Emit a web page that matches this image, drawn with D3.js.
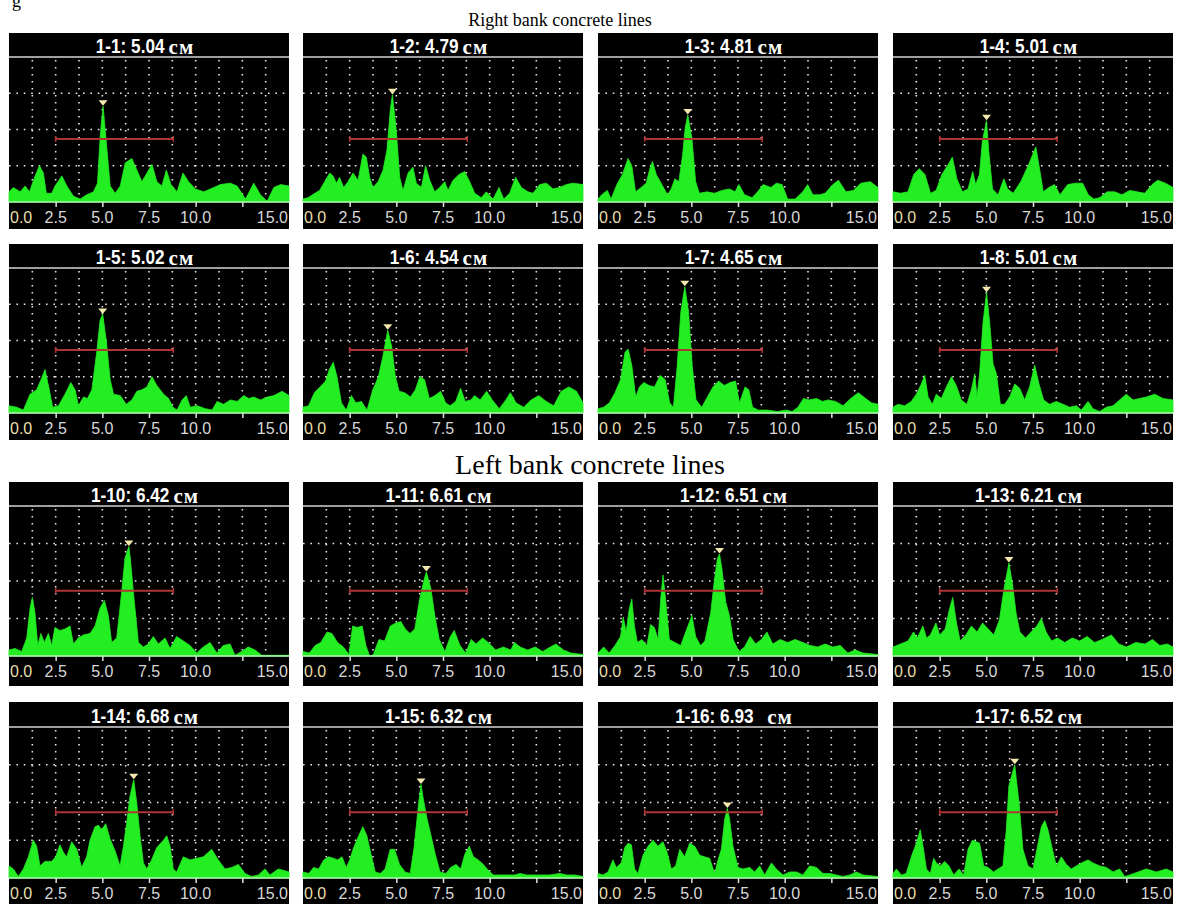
<!DOCTYPE html>
<html>
<head>
<meta charset="utf-8">
<script src="https://cdn.jsdelivr.net/npm/d3@7"></script>
<style>
  body { margin: 0; background: #fff; }
  svg { display: block; }
</style>
</head>
<body>
<div id="chart"></div>
<script>
// panel names and measured depth in each title
var panelIds = ["1-1", "1-2", "1-3", "1-4", "1-5", "1-6", "1-7", "1-8",
                "1-10", "1-11", "1-12", "1-13", "1-14", "1-15", "1-16", "1-17"];
var peakDepths = ["5.04", "4.79", "4.81", "5.01", "5.02", "4.54", "4.65", "5.01",
                  "6.42", "6.61", "6.51", "6.21", "6.68", "6.32", "6.93  ", "6.52"];
var unitLabel = "см";
var sectionTitles = ["Right bank concrete lines", "Left bank concrete lines"];

// x axis (depth, cm)
var tickValues = [2.5, 5, 7.5, 10, 12.5];
var labelValues = [0, 2.5, 5, 7.5, 10, 15];
var labelTexts = ["0.0", "2.5", "5.0", "7.5", "10.0", "15.0"];

// red gate
var gateFrom = 2.5, gateTo = 8.8, gateLevel = 43.5;

// spectra: [depth, amplitude %]
var trace_1_1 = [[0,7],[0.23,10],[0.6,7],[0.86,11],[1.1,7],[1.4,18],[1.63,25],[1.84,20],[2.0,6],[2.29,6],[2.47,11],[2.83,18],[3.1,11],[3.45,4],[3.81,2],[4.17,5],[4.53,7],[4.74,13],[4.9,48],[5.04,66],[5.2,43],[5.42,11],[5.69,6],[5.96,11],[6.23,27],[6.58,30],[6.85,22],[7.12,14],[7.39,20],[7.66,26],[7.92,14],[8.19,11],[8.43,22],[8.68,12],[9.0,7],[9.32,20],[9.62,14],[9.98,9],[10.43,7],[10.97,10],[11.32,12],[11.86,13],[12.22,11],[12.67,2],[13.11,13],[13.47,5],[13.83,0.5],[14.19,10],[14.55,12],[15,11]];
var trace_1_2 = [[0,2],[0.27,3],[0.63,6],[0.89,8],[1.16,14],[1.43,20],[1.61,18],[1.79,13],[1.96,17],[2.18,10],[2.41,14],[2.68,20],[2.95,15],[3.21,33],[3.39,31],[3.57,17],[3.75,10],[4.02,14],[4.29,22],[4.5,36],[4.68,64],[4.79,74],[4.98,52],[5.18,17],[5.36,8],[5.63,20],[5.89,24],[6.07,13],[6.34,10],[6.57,25],[6.79,15],[7.05,7],[7.32,10],[7.59,14],[7.77,8],[8.04,15],[8.36,19],[8.66,21],[8.93,14],[9.2,6],[9.55,3],[9.82,7],[10.18,2],[10.5,10],[10.75,2],[11.07,6],[11.39,17],[11.7,10],[12.05,7],[12.32,6],[12.68,12],[13.04,13],[13.39,9],[13.75,10],[14.11,12],[14.46,13],[15,12]];
var trace_1_3 = [[0,2],[0.2,5],[0.5,8],[0.7,2],[1.01,12],[1.31,19],[1.61,30],[1.81,25],[2.01,7],[2.31,10],[2.58,13],[2.78,23],[2.92,28],[3.12,19],[3.42,12],[3.72,5],[3.92,9],[4.12,16],[4.33,14],[4.53,32],[4.67,51],[4.81,60],[5.03,44],[5.23,14],[5.43,6],[5.84,7],[6.24,6],[6.64,8],[7.04,9],[7.34,7],[7.55,12],[7.85,5],[8.25,3],[8.55,7],[8.85,12],[9.26,10],[9.56,13],[9.86,12],[10.16,2],[10.56,2],[10.97,7],[11.23,12],[11.51,5],[11.87,5],[12.17,6],[12.58,12],[12.88,15],[13.28,7],[13.68,8],[14.09,13],[14.59,14],[15,10]];
var trace_1_4 = [[0,7],[0.4,6],[0.8,7],[1.11,19],[1.41,23],[1.71,19],[2.01,6],[2.31,8],[2.62,19],[2.92,25],[3.18,31],[3.42,16],[3.72,7],[4.02,9],[4.27,21],[4.43,12],[4.63,19],[4.79,42],[5.01,56],[5.13,35],[5.33,9],[5.63,5],[5.94,16],[6.14,9],[6.44,6],[6.84,14],[7.24,25],[7.65,38],[7.85,23],[8.05,7],[8.35,10],[8.65,12],[8.95,5],[9.36,12],[9.76,13],[10.16,13],[10.46,5],[10.76,2],[11.07,3],[11.47,7],[11.87,7],[12.27,5],[12.68,8],[13.08,7],[13.48,6],[13.88,12],[14.18,15],[14.59,13],[15,10]];
var trace_1_5 = [[0,5],[0.41,4],[0.77,2],[1.13,13],[1.48,16],[1.75,24],[1.93,30],[2.16,16],[2.34,4],[2.65,5],[3.0,13],[3.31,21],[3.54,16],[3.72,5],[3.99,11],[4.2,10],[4.44,16],[4.71,43],[4.88,64],[5.02,68],[5.21,50],[5.42,23],[5.6,13],[5.96,12],[6.28,6],[6.58,9],[6.85,15],[7.12,16],[7.39,18],[7.66,25],[7.92,19],[8.28,13],[8.55,10],[8.78,4],[9.0,2],[9.27,9],[9.5,12],[9.71,4],[10.07,5],[10.52,3],[10.88,2],[11.15,8],[11.5,6],[11.86,9],[12.22,8],[12.58,12],[12.84,10],[13.11,11],[13.47,9],[13.83,11],[14.19,12],[14.63,15],[15,12]];
var trace_1_6 = [[0,4],[0.3,5],[0.61,14],[0.91,18],[1.21,22],[1.41,30],[1.62,35],[1.82,25],[2.06,7],[2.32,2],[2.59,12],[2.83,7],[3.13,8],[3.43,2],[3.74,16],[4.04,25],[4.28,39],[4.48,53],[4.54,57],[4.75,46],[4.95,25],[5.15,15],[5.45,14],[5.76,11],[6.02,16],[6.26,25],[6.51,23],[6.77,10],[7.07,12],[7.37,15],[7.64,7],[7.88,5],[8.18,8],[8.44,17],[8.69,8],[8.99,9],[9.19,12],[9.49,9],[9.84,15],[10.14,9],[10.51,3],[10.81,8],[11.11,14],[11.41,7],[11.82,4],[12.22,9],[12.63,12],[13.03,8],[13.43,5],[13.84,15],[14.24,18],[14.65,15],[15,7]];
var trace_1_7 = [[0,3],[0.3,4],[0.61,7],[0.91,14],[1.21,23],[1.45,42],[1.62,44],[1.82,32],[2.02,11],[2.22,18],[2.46,21],[2.73,19],[3.03,18],[3.33,26],[3.6,23],[3.84,7],[4.04,4],[4.24,32],[4.44,70],[4.65,87],[4.85,70],[5.05,32],[5.25,9],[5.56,4],[5.86,11],[6.16,18],[6.46,22],[6.77,19],[7.07,21],[7.37,22],[7.58,7],[7.88,18],[8.08,16],[8.28,4],[8.59,2],[9.09,2],[9.6,1],[10.1,2],[10.4,1],[10.71,4],[11.01,10],[11.31,9],[11.72,10],[12.02,8],[12.32,9],[12.73,8],[13.13,5],[13.54,10],[13.94,14],[14.34,10],[14.65,7],[15,6]];
var trace_1_8 = [[0,4],[0.27,6],[0.63,5],[0.98,8],[1.25,13],[1.52,20],[1.7,26],[1.88,11],[2.11,6],[2.32,13],[2.59,10],[2.86,18],[3.13,25],[3.39,19],[3.66,9],[3.96,6],[4.2,16],[4.38,27],[4.5,11],[4.64,27],[4.82,62],[5.01,83],[5.18,62],[5.36,34],[5.54,27],[5.75,6],[5.98,6],[6.25,11],[6.52,20],[6.79,17],[7.05,9],[7.32,18],[7.59,33],[7.82,20],[8.07,9],[8.39,6],[8.75,8],[9.11,6],[9.46,4],[9.82,5],[10.09,2],[10.45,8],[10.71,3],[11.07,1],[11.43,4],[11.79,5],[12.14,9],[12.5,13],[12.86,9],[13.21,10],[13.57,11],[14.02,13],[14.46,10],[15,9]];
var trace_1_10 = [[0,4],[0.32,5],[0.68,3],[0.95,12],[1.13,32],[1.25,39],[1.39,29],[1.54,7],[1.71,15],[1.89,9],[2.11,15],[2.29,7],[2.46,19],[2.73,17],[3.0,18],[3.27,20],[3.45,8],[3.71,12],[3.98,14],[4.34,15],[4.61,20],[4.88,32],[5.11,37],[5.32,27],[5.5,9],[5.77,12],[6.04,43],[6.21,65],[6.42,73],[6.5,65],[6.66,43],[6.93,9],[7.2,6],[7.46,8],[7.73,13],[8.0,8],[8.36,12],[8.63,5],[8.98,13],[9.34,10],[9.7,7],[10.05,2],[10.41,6],[10.77,9],[11.13,2],[11.48,7],[11.84,8],[12.11,0.5],[12.46,3],[12.82,6],[13.18,4],[13.54,0.5],[14.25,0.5],[15,0.5]];
var trace_1_11 = [[0,3],[0.34,2],[0.65,7],[0.95,9],[1.29,16],[1.55,15],[1.85,9],[2.16,6],[2.46,1],[2.66,20],[2.9,19],[3.17,20],[3.37,7],[3.57,0],[3.77,1],[4.07,11],[4.37,10],[4.68,20],[4.98,22],[5.24,23],[5.48,18],[5.73,15],[5.99,18],[6.25,38],[6.49,51],[6.61,56],[6.85,45],[7.06,27],[7.3,11],[7.6,3],[7.9,13],[8.1,17],[8.41,7],[8.71,2],[9.01,11],[9.27,8],[9.62,12],[9.92,9],[10.32,4],[10.73,6],[11.13,4],[11.33,9],[11.63,6],[12.04,4],[12.44,6],[12.84,3],[13.25,6],[13.55,8],[13.95,4],[14.35,2],[15,1]];
var trace_1_12 = [[0,2],[0.3,6],[0.6,2],[0.91,7],[1.21,13],[1.35,26],[1.51,16],[1.67,31],[1.81,38],[1.95,20],[2.11,9],[2.35,11],[2.62,7],[2.82,21],[3.02,19],[3.22,11],[3.36,38],[3.48,54],[3.62,38],[3.82,11],[4.12,9],[4.43,7],[4.73,17],[5.03,27],[5.23,13],[5.49,7],[5.73,10],[6.04,29],[6.24,51],[6.4,65],[6.51,68],[6.64,58],[6.84,36],[7.04,27],[7.24,11],[7.55,3],[7.85,6],[8.15,13],[8.45,8],[8.75,11],[9.05,16],[9.36,8],[9.76,11],[10.16,9],[10.56,11],[10.97,9],[11.37,7],[11.77,6],[12.17,8],[12.58,6],[12.98,7],[13.38,2],[13.78,4],[14.19,2],[15,1]];
var trace_1_13 = [[0,6],[0.4,8],[0.8,10],[1.1,16],[1.3,12],[1.6,20],[1.8,12],[2.0,14],[2.3,22],[2.5,14],[2.8,18],[3.0,30],[3.2,39],[3.4,22],[3.6,10],[3.9,14],[4.2,20],[4.5,16],[4.8,22],[5.1,18],[5.4,14],[5.7,24],[5.95,45],[6.21,62],[6.4,48],[6.6,28],[6.8,16],[7.1,12],[7.4,16],[7.7,20],[7.95,25],[8.2,16],[8.5,10],[8.8,12],[9.2,9],[9.6,12],[10.0,10],[10.4,13],[10.8,9],[11.2,11],[11.7,14],[12.1,8],[12.5,6],[13.0,9],[13.5,8],[13.9,11],[14.3,7],[14.7,8],[15,6]];
var trace_1_14 = [[0,8],[0.23,6],[0.5,1],[0.77,6],[1.04,14],[1.3,25],[1.48,21],[1.66,8],[1.93,11],[2.29,11],[2.5,14],[2.73,22],[2.91,17],[3.09,14],[3.36,24],[3.63,19],[3.89,7],[4.16,14],[4.34,25],[4.61,34],[4.79,35],[4.96,32],[5.18,36],[5.41,26],[5.68,18],[5.95,8],[6.13,21],[6.3,36],[6.48,54],[6.68,65],[6.84,50],[7.02,28],[7.2,10],[7.38,6],[7.64,12],[7.91,20],[8.27,25],[8.45,28],[8.63,21],[8.8,6],[8.98,4],[9.34,14],[9.7,12],[10.05,13],[10.41,14],[10.86,19],[11.21,12],[11.57,6],[11.93,7],[12.29,9],[12.64,3],[13.0,1],[13.36,2],[13.71,6],[13.98,2],[14.43,6],[15,4]];
var trace_1_15 = [[0,4],[0.3,3],[0.57,7],[0.84,6],[1.11,12],[1.37,14],[1.64,13],[1.85,12],[2.09,14],[2.32,7],[2.5,12],[2.71,20],[2.98,28],[3.21,34],[3.42,28],[3.64,16],[3.87,4],[4.14,3],[4.4,6],[4.67,19],[4.9,19],[5.17,9],[5.47,4],[5.74,3],[5.95,20],[6.19,49],[6.32,62],[6.45,52],[6.63,40],[6.84,29],[7.08,16],[7.34,4],[7.66,3],[7.91,7],[8.2,9],[8.45,6],[8.68,16],[8.91,21],[9.13,14],[9.39,12],[9.66,9],[9.93,5],[10.2,2],[10.55,2],[10.91,2],[11.35,2],[11.62,3],[11.98,2],[12.42,2],[12.87,2],[13.23,2],[13.76,3],[14.12,2],[14.56,2],[15,1]];
var trace_1_16 = [[0,3],[0.27,2],[0.54,4],[0.8,12],[0.98,7],[1.25,10],[1.43,20],[1.61,23],[1.79,22],[1.96,6],[2.14,3],[2.41,15],[2.68,21],[2.95,25],[3.21,21],[3.48,24],[3.7,17],[3.93,6],[4.16,8],[4.38,19],[4.64,14],[4.91,23],[5.18,21],[5.45,15],[5.71,14],[5.98,13],[6.25,3],[6.43,12],[6.61,19],[6.79,39],[6.93,46],[7.05,39],[7.23,21],[7.5,7],[7.77,6],[8.13,7],[8.39,4],[8.66,8],[8.93,2],[9.29,10],[9.55,6],[9.91,2],[10.27,4],[10.63,4],[10.98,2],[11.34,8],[11.7,7],[12.05,3],[12.41,3],[12.77,2],[13.13,1],[13.48,2],[13.84,4],[14.2,2],[15,1]];
var trace_1_17 = [[0,3],[0.18,6],[0.45,2],[0.71,3],[0.98,14],[1.25,23],[1.46,32],[1.61,21],[1.79,6],[2.0,3],[2.18,13],[2.32,10],[2.54,8],[2.77,11],[3.0,8],[3.25,2],[3.54,6],[3.79,2],[4.02,19],[4.25,25],[4.46,24],[4.64,23],[4.86,8],[5.09,7],[5.39,4],[5.63,6],[5.89,8],[6.07,32],[6.21,61],[6.52,75],[6.61,65],[6.75,50],[6.96,19],[7.23,8],[7.5,6],[7.71,19],[7.95,34],[8.13,38],[8.3,32],[8.54,19],[8.75,8],[9.02,14],[9.29,9],[9.55,6],[9.82,8],[10.09,10],[10.45,12],[10.71,10],[11.07,8],[11.43,7],[11.79,4],[12.14,6],[12.41,1],[12.68,2],[13.13,4],[13.57,6],[14.11,4],[14.64,6],[15,4]];

var traces = [trace_1_1, trace_1_2, trace_1_3, trace_1_4, trace_1_5, trace_1_6, trace_1_7, trace_1_8,
              trace_1_10, trace_1_11, trace_1_12, trace_1_13, trace_1_14, trace_1_15, trace_1_16, trace_1_17];

// layout
var W = 1178, H = 904;
var colX = [9, 303, 598, 893], panelW = 280;
var rowTop = [33, 244, 482, 702],
    rowH = [196, 196, 204, 202],
    titleH = [24, 24, 24, 25],
    axisH = [27, 27, 30, 26];

var green = "#22ee22";
var sansFont = "'Liberation Sans', Arial, sans-serif";
var serifFont = "'Liberation Serif', 'Times New Roman', serif";

var svg = d3.select("#chart")
    .append("svg")
    .attr("width", W)
    .attr("height", H);

// section headings (the first line is cut off at the top edge, as in the source)
svg.append("text")
    .text("g")
    .attr("x", 12).attr("y", 7)
    .style("font-family", serifFont)
    .style("font-size", "18px");

svg.append("text")
    .text(sectionTitles[0])
    .attr("x", 560).attr("y", 26)
    .attr("text-anchor", "middle")
    .style("font-family", serifFont)
    .style("font-size", "18px")
    .style("fill", "#000");

svg.append("text")
    .text(sectionTitles[1])
    .attr("x", 590).attr("y", 474)
    .attr("text-anchor", "middle")
    .style("font-family", serifFont)
    .style("font-size", "28px")
    .style("fill", "#000");

traces.forEach(function (trace, i) {
    var r = Math.floor(i / 4), c = i % 4;
    var g = svg.append("g")
        .attr("transform", "translate(" + colX[c] + "," + rowTop[r] + ")");

    var top = titleH[r];
    var bottom = rowH[r] - axisH[r];

    var x = d3.scaleLinear().domain([0, 15]).range([0, panelW]);
    var y = d3.scaleLinear().domain([0, 100]).range([bottom, top]);

    // black screen
    g.append("rect")
        .attr("width", panelW)
        .attr("height", rowH[r])
        .attr("fill", "#000");

    // dotted grid
    g.append("g")
        .selectAll("line")
        .data(d3.range(1, 12).map(function (k) { return k * 1.25; }))
        .join("line")
        .attr("x1", function (d) { return x(d); })
        .attr("x2", function (d) { return x(d); })
        .attr("y1", y(100) + 3)
        .attr("y2", y(0))
        .attr("stroke", "#e8e8e8")
        .attr("stroke-width", 1.6)
        .attr("stroke-dasharray", "1.6,5.4");

    g.append("g")
        .selectAll("line")
        .data([25, 50, 75])
        .join("line")
        .attr("x1", 0)
        .attr("x2", panelW)
        .attr("y1", function (d) { return y(d); })
        .attr("y2", function (d) { return y(d); })
        .attr("stroke", "#e8e8e8")
        .attr("stroke-width", 1.6)
        .attr("stroke-dasharray", "1.6,5.8");

    // spectrum
    g.append("path")
        .datum(trace)
        .attr("fill", green)
        .attr("stroke", green)
        .attr("stroke-width", 0.8)
        .attr("d", d3.area()
            .x(function (d) { return x(d[0]); })
            .y0(y(0))
            .y1(function (d) { return y(d[1]); })
        );

    // gate line
    g.append("line")
        .attr("x1", x(gateFrom)).attr("x2", x(gateTo))
        .attr("y1", y(gateLevel)).attr("y2", y(gateLevel))
        .attr("stroke", "#b03434")
        .attr("stroke-width", 2);
    g.selectAll(".gate-end")
        .data([gateFrom, gateTo])
        .join("line")
        .attr("class", "gate-end")
        .attr("x1", function (d) { return x(d); })
        .attr("x2", function (d) { return x(d); })
        .attr("y1", y(gateLevel) - 3)
        .attr("y2", y(gateLevel) + 3)
        .attr("stroke", "#b03434")
        .attr("stroke-width", 1.5);

    // peak marker
    var peak = d3.greatest(trace, function (d) { return d[1]; });
    var px = x(peak[0]), py = y(peak[1]);
    g.append("path")
        .attr("d", "M" + (px - 4.5) + "," + (py - 6) + "L" + (px + 4.5) + "," + (py - 6) + "L" + px + "," + (py - 0.5) + "Z")
        .attr("fill", "#f4e8ae");

    // title band
    g.append("line")
        .attr("x1", 0).attr("x2", panelW)
        .attr("y1", top).attr("y2", top)
        .attr("stroke", "#d4d4d4")
        .attr("stroke-width", 1.6);

    var squeeze = 0.86;
    var numText = g.append("text")
        .text(panelIds[i] + ": " + peakDepths[i])
        .style("white-space", "pre")
        .style("font-family", sansFont)
        .style("font-weight", "bold")
        .style("font-size", "20px")
        .style("fill", "#fff");
    var unitText = g.append("text")
        .text(unitLabel)
        .style("font-family", serifFont)
        .style("font-weight", "bold")
        .style("font-size", "21px")
        .style("letter-spacing", "1px")
        .style("fill", "#fff");
    var w1 = numText.node().getComputedTextLength() * squeeze;
    var w2 = unitText.node().getComputedTextLength();
    var gap = 4;
    var x0 = panelW / 2 - 4 - (w1 + gap + w2) / 2;
    numText.attr("transform", "translate(" + x0 + "," + (top - 4) + ") scale(" + squeeze + ",1)");
    unitText.attr("x", x0 + w1 + gap).attr("y", top - 3);

    // axis
    var axis = g.append("g")
        .attr("transform", "translate(0," + bottom + ")")
        .call(d3.axisBottom(x).tickValues(tickValues).tickSize(5).tickFormat(""));
    axis.select(".domain").remove();
    axis.selectAll(".tick line")
        .attr("stroke", "#e0e0e0")
        .attr("stroke-width", 1.5);

    g.append("line")
        .attr("x1", 0).attr("x2", panelW)
        .attr("y1", bottom).attr("y2", bottom)
        .attr("stroke", "#b8f5b8")
        .attr("stroke-width", 1.6);

    g.selectAll(".tick-label")
        .data(labelValues)
        .join("text")
        .attr("class", "tick-label")
        .text(function (d, k) { return labelTexts[k]; })
        .attr("x", function (d, k) {
            if (k == 0) return x(d) + 1;
            if (k == labelValues.length - 1) return x(d) - 1;
            return x(d);
        })
        .attr("y", bottom + 21)
        .attr("text-anchor", function (d, k) {
            if (k == 0) return "start";
            if (k == labelValues.length - 1) return "end";
            return "middle";
        })
        .style("font-family", sansFont)
        .style("font-size", "16px")
        .style("fill", function (d, k) { return k == 0 ? "#e8dfaa" : "#d8d8d8"; });
});
</script>
</body>
</html>
